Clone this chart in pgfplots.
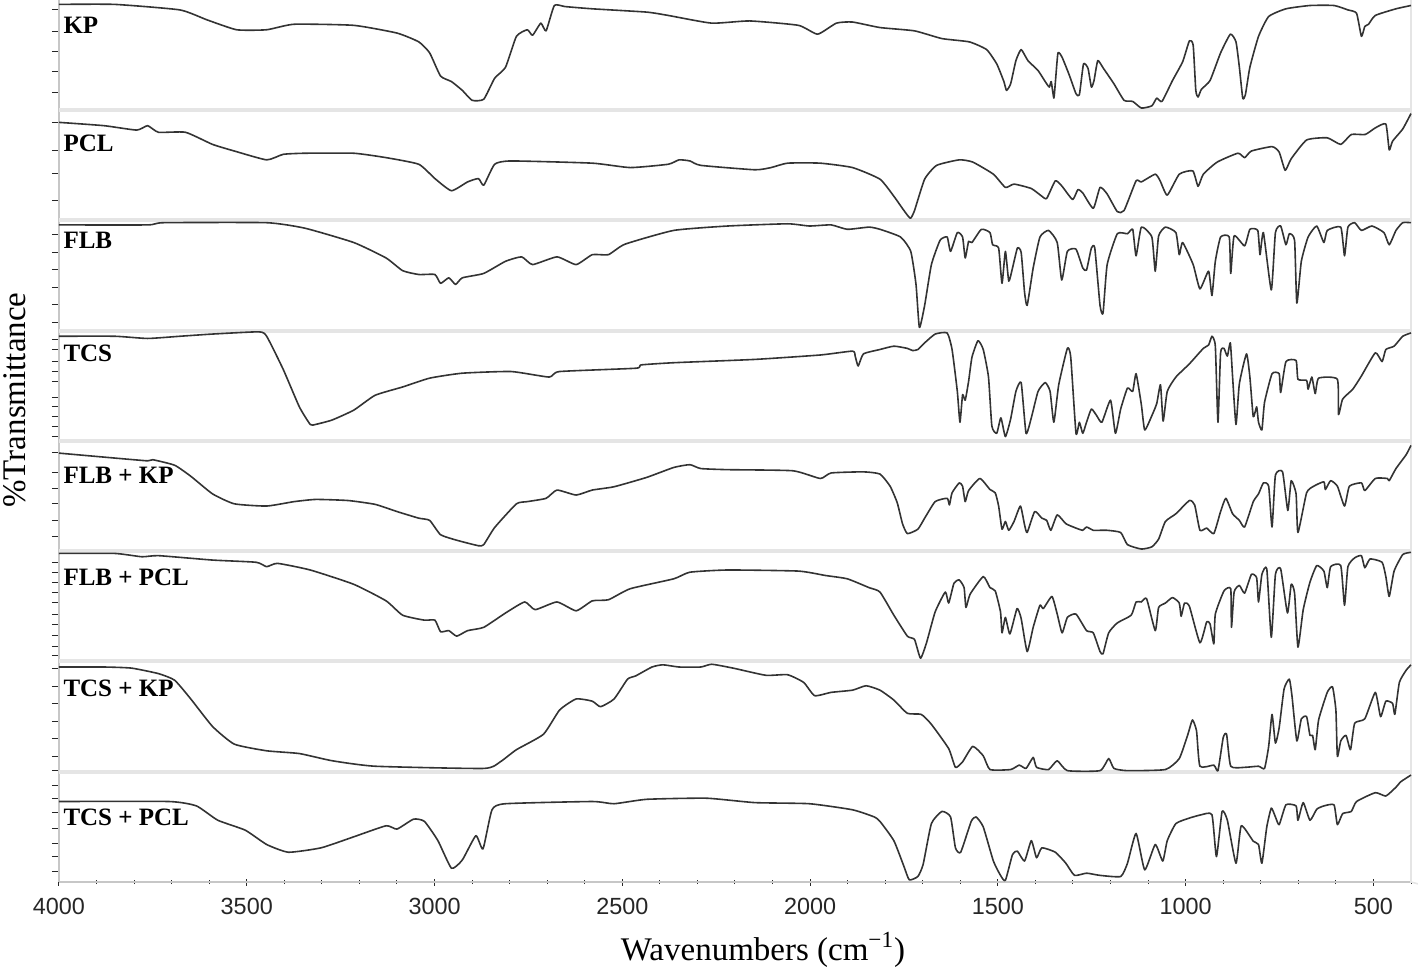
\documentclass[border=0pt]{standalone}
\usepackage{fontspec}
\setmainfont{Liberation Serif}
\newfontfamily\ticksans{Liberation Sans}
\usepackage{pgfplots}
\usepackage{pgfplotstable}
\pgfplotsset{compat=1.18}

\pgfplotstableread{
4000 0.96
3851 0.96
3678 0.91
3606 0.82
3527 0.73
3447 0.73
3374 0.78
3215 0.77
3100 0.70
3042 0.62
3013 0.52
2984 0.31
2955 0.26
2926 0.18
2900 0.09
2869 0.10
2840 0.29
2811 0.39
2782 0.67
2753 0.73
2739 0.68
2717 0.79
2703 0.72
2681 0.95
2652 0.94
2580 0.92
2435 0.89
2378 0.86
2262 0.79
2161 0.81
2031 0.77
1980 0.69
1930 0.79
1887 0.80
1814 0.75
1722 0.72
1649 0.65
1576 0.62
1530 0.55
1503 0.42
1484 0.26
1477 0.18
1466 0.24
1452 0.45
1438 0.55
1420 0.45
1393 0.36
1374 0.26
1363 0.21
1358 0.26
1351 0.11
1347 0.25
1340 0.52
1329 0.48
1310 0.32
1292 0.15
1283 0.14
1272 0.42
1260 0.38
1251 0.21
1244 0.27
1234 0.45
1219 0.38
1191 0.24
1164 0.09
1141 0.08
1118 0.02
1090 0.04
1077 0.11
1063 0.08
1035 0.27
1008 0.44
990 0.63
980 0.59
973 0.18
967 0.12
958 0.19
935 0.27
907 0.52
881 0.69
866 0.62
857 0.39
848 0.11
841 0.14
829 0.39
806 0.67
779 0.85
733 0.92
669 0.95
605 0.95
568 0.91
545 0.88
532 0.67
523 0.76
513 0.78
495 0.86
440 0.92
400 0.95
}\kp

\pgfplotstableread{
4000 0.89
3880 0.86
3793 0.82
3764 0.86
3735 0.80
3663 0.80
3591 0.69
3533 0.63
3447 0.55
3403 0.60
3345 0.61
3215 0.61
3129 0.57
3042 0.51
2999 0.38
2955 0.27
2912 0.35
2883 0.38
2869 0.32
2840 0.51
2796 0.54
2580 0.52
2479 0.48
2378 0.51
2349 0.55
2320 0.54
2291 0.50
2147 0.46
2104 0.48
2060 0.52
1973 0.52
1887 0.48
1814 0.375
1777 0.22
1750 0.09
1733 0.02
1722 0.09
1695 0.375
1663 0.50
1603 0.55
1567 0.53
1512 0.42
1480 0.30
1457 0.33
1411 0.29
1383 0.22
1370 0.20
1347 0.36
1329 0.31
1301 0.19
1287 0.28
1274 0.25
1246 0.11
1228 0.30
1209 0.24
1182 0.08
1164 0.09
1132 0.36
1118 0.35
1081 0.42
1068 0.36
1049 0.23
1017 0.42
981 0.45
967 0.31
953 0.42
916 0.53
861 0.61
843 0.57
825 0.63
770 0.67
751 0.62
735 0.455
719 0.56
678 0.73
623 0.75
587 0.69
559 0.78
522 0.78
495 0.84
467 0.875
458 0.64
449 0.72
422 0.83
400 0.97
}\pcl

\pgfplotstableread{
4000 0.96
3764 0.96
3721 0.98
3447 0.98
3345 0.93
3215 0.80
3129 0.66
3085 0.545
3042 0.51
2999 0.51
2984 0.43
2962 0.48
2944 0.42
2926 0.48
2869 0.52
2811 0.63
2768 0.67
2739 0.60
2674 0.67
2623 0.60
2580 0.69
2537 0.69
2493 0.785
2363 0.91
2219 0.95
2060 0.97
2002 0.95
1944 0.96
1901 0.92
1843 0.94
1814 0.92
1759 0.85
1732 0.72
1718 0.42
1709 0.03
1695 0.23
1677 0.60
1654 0.82
1635 0.85
1626 0.72
1608 0.89
1594 0.85
1587 0.66
1578 0.81
1569 0.80
1544 0.92
1521 0.89
1514 0.78
1498 0.75
1489 0.43
1480 0.72
1471 0.45
1461 0.57
1448 0.75
1438 0.71
1429 0.35
1422 0.23
1406 0.57
1388 0.85
1365 0.91
1342 0.80
1330 0.46
1315 0.72
1292 0.74
1274 0.57
1264 0.55
1251 0.75
1242 0.75
1228 0.23
1220 0.16
1209 0.60
1182 0.88
1155 0.88
1141 0.92
1132 0.68
1118 0.94
1090 0.85
1081 0.54
1072 0.86
1054 0.94
1026 0.89
1017 0.69
1008 0.80
980 0.60
962 0.38
939 0.54
930 0.32
921 0.63
907 0.85
884 0.85
880 0.52
871 0.86
843 0.77
829 0.92
808 0.91
802 0.69
793 0.89
772 0.37
761 0.89
747 0.95
733 0.78
724 0.88
710 0.82
704 0.25
692 0.63
674 0.85
651 0.95
632 0.80
623 0.91
587 0.94
577 0.68
568 0.94
550 0.98
532 0.91
504 0.95
472 0.89
458 0.78
440 0.91
422 0.98
400 0.98
}\flb

\pgfplotstableread{
4000 0.95
3851 0.95
3764 0.93
3678 0.95
3591 0.97
3468 0.99
3447 0.95
3403 0.65
3360 0.31
3331 0.15
3317 0.15
3273 0.19
3215 0.28
3158 0.415
3085 0.49
3013 0.57
2926 0.615
2796 0.63
2695 0.58
2667 0.63
2464 0.66
2450 0.69
2363 0.71
2147 0.74
1973 0.78
1887 0.815
1880 0.77
1872 0.68
1858 0.79
1814 0.83
1777 0.86
1741 0.84
1727 0.82
1713 0.83
1695 0.89
1667 0.97
1635 0.98
1622 0.83
1608 0.45
1601 0.17
1594 0.42
1587 0.37
1578 0.54
1569 0.76
1553 0.91
1539 0.83
1525 0.58
1516 0.135
1503 0.07
1492 0.21
1480 0.04
1466 0.20
1452 0.45
1438 0.53
1425 0.07
1411 0.21
1393 0.45
1374 0.53
1361 0.45
1351 0.17
1338 0.51
1315 0.84
1306 0.76
1292 0.07
1283 0.17
1274 0.07
1264 0.17
1251 0.29
1237 0.23
1223 0.17
1200 0.37
1187 0.07
1173 0.29
1155 0.48
1141 0.45
1132 0.61
1118 0.33
1109 0.10
1090 0.23
1077 0.34
1067 0.51
1060 0.18
1049 0.45
1026 0.58
990 0.70
953 0.84
939 0.87
930 0.95
921 0.86
914 0.17
907 0.80
898 0.84
889 0.77
881 0.89
875 0.58
866 0.15
857 0.52
838 0.79
829 0.58
820 0.22
811 0.31
806 0.17
797 0.10
790 0.35
770 0.61
751 0.61
747 0.44
733 0.72
706 0.73
701 0.56
678 0.55
674 0.47
664 0.58
655 0.43
646 0.57
596 0.56
593 0.24
582 0.38
555 0.47
532 0.59
495 0.80
477 0.72
467 0.83
445 0.86
422 0.95
400 0.98
}\tcs

\pgfplotstableread{
4000 0.89
3851 0.845
3764 0.82
3750 0.83
3692 0.78
3649 0.68
3591 0.52
3533 0.43
3447 0.41
3374 0.45
3316 0.47
3230 0.46
3158 0.425
3100 0.36
3042 0.30
3013 0.28
2984 0.15
2941 0.10
2883 0.05
2869 0.06
2840 0.215
2782 0.43
2753 0.45
2703 0.48
2674 0.555
2623 0.51
2580 0.555
2522 0.585
2435 0.67
2363 0.76
2320 0.785
2291 0.75
2219 0.74
2046 0.73
1973 0.66
1944 0.71
1858 0.72
1814 0.70
1787 0.59
1768 0.44
1754 0.25
1741 0.16
1713 0.20
1695 0.30
1667 0.45
1635 0.48
1629 0.42
1622 0.53
1603 0.62
1594 0.59
1587 0.45
1578 0.55
1548 0.66
1521 0.56
1507 0.53
1498 0.41
1489 0.20
1480 0.27
1471 0.19
1457 0.27
1440 0.41
1429 0.24
1422 0.17
1402 0.36
1383 0.30
1370 0.28
1359 0.19
1342 0.33
1319 0.25
1292 0.21
1274 0.19
1264 0.22
1246 0.19
1228 0.19
1209 0.19
1173 0.17
1155 0.06
1118 0.02
1090 0.04
1072 0.11
1054 0.27
1026 0.34
990 0.46
976 0.42
962 0.19
944 0.21
925 0.16
907 0.36
893 0.48
875 0.34
857 0.28
843 0.22
820 0.45
806 0.52
793 0.62
779 0.59
770 0.22
761 0.69
742 0.72
728 0.37
719 0.64
706 0.52
701 0.17
678 0.53
659 0.59
632 0.63
628 0.56
614 0.64
596 0.59
577 0.41
564 0.59
532 0.62
523 0.55
495 0.66
463 0.66
458 0.64
440 0.75
413 0.875
400 0.96
}\flbkp

\pgfplotstableread{
4000 0.98
3851 0.98
3779 0.95
3735 0.96
3591 0.92
3475 0.90
3447 0.86
3418 0.89
3331 0.83
3215 0.70
3129 0.55
3085 0.42
3027 0.375
2999 0.375
2984 0.27
2962 0.28
2941 0.23
2912 0.28
2869 0.31
2811 0.44
2760 0.54
2732 0.47
2674 0.54
2623 0.46
2580 0.55
2537 0.56
2479 0.66
2363 0.75
2320 0.81
2219 0.83
2031 0.82
1959 0.78
1901 0.75
1843 0.67
1814 0.63
1777 0.42
1741 0.23
1722 0.20
1706 0.03
1690 0.17
1667 0.45
1640 0.63
1631 0.53
1617 0.71
1603 0.74
1590 0.67
1585 0.49
1574 0.61
1539 0.77
1521 0.67
1507 0.64
1493 0.45
1489 0.26
1480 0.40
1468 0.25
1449 0.48
1438 0.39
1422 0.09
1406 0.31
1388 0.51
1379 0.48
1356 0.59
1342 0.43
1329 0.26
1315 0.40
1292 0.43
1264 0.28
1246 0.26
1228 0.09
1220 0.07
1205 0.26
1182 0.35
1145 0.42
1132 0.54
1118 0.54
1104 0.57
1081 0.28
1072 0.49
1054 0.53
1035 0.58
1017 0.53
1012 0.41
1003 0.53
990 0.50
962 0.17
944 0.36
935 0.34
925 0.16
921 0.43
898 0.64
880 0.66
878 0.31
871 0.63
857 0.69
843 0.62
825 0.79
811 0.76
806 0.54
797 0.79
784 0.84
772 0.22
761 0.79
747 0.84
729 0.44
719 0.70
710 0.62
701 0.13
687 0.47
669 0.72
651 0.87
632 0.82
623 0.67
614 0.86
587 0.87
577 0.51
568 0.86
550 0.94
532 0.96
523 0.85
509 0.93
477 0.90
467 0.77
458 0.59
445 0.82
422 0.97
400 0.99
}\flbpcl

\pgfplotstableread{
4000 0.95
3880 0.95
3807 0.94
3735 0.89
3692 0.83
3649 0.66
3591 0.41
3533 0.25
3447 0.19
3360 0.165
3273 0.10
3158 0.05
2869 0.03
2825 0.09
2782 0.20
2710 0.34
2667 0.56
2623 0.66
2580 0.64
2558 0.59
2522 0.66
2486 0.84
2464 0.87
2421 0.95
2392 0.97
2349 0.95
2291 0.95
2262 0.975
2205 0.94
2118 0.875
2060 0.88
2017 0.81
1988 0.69
1944 0.72
1887 0.74
1851 0.78
1814 0.74
1777 0.65
1741 0.53
1704 0.52
1677 0.43
1631 0.21
1613 0.04
1594 0.09
1567 0.23
1539 0.145
1521 0.02
1466 0.02
1443 0.06
1425 0.03
1406 0.13
1397 0.04
1365 0.02
1342 0.10
1315 0.01
1228 0.01
1205 0.12
1191 0.03
1155 0.01
1054 0.02
1017 0.12
994 0.34
982 0.47
971 0.37
962 0.05
925 0.06
914 0.01
900 0.31
891 0.34
880 0.05
843 0.04
806 0.05
790 0.03
779 0.23
770 0.52
761 0.26
751 0.40
738 0.75
724 0.84
717 0.69
704 0.28
692 0.48
678 0.50
669 0.33
662 0.33
655 0.20
646 0.47
623 0.72
609 0.77
600 0.56
596 0.14
587 0.28
573 0.33
561 0.20
550 0.44
523 0.48
495 0.72
481 0.50
467 0.64
449 0.62
443 0.52
431 0.81
413 0.92
400 0.97
}\tcskp

\pgfplotstableread{
4000 0.73
3707 0.73
3634 0.69
3577 0.56
3504 0.47
3447 0.34
3389 0.27
3302 0.31
3215 0.41
3129 0.51
3100 0.48
3056 0.57
3027 0.55
2991 0.375
2955 0.125
2926 0.20
2890 0.42
2871 0.30
2847 0.655
2811 0.71
2580 0.73
2522 0.71
2435 0.75
2276 0.76
2147 0.72
2002 0.71
1887 0.655
1829 0.59
1814 0.55
1777 0.375
1750 0.14
1736 0.02
1713 0.05
1699 0.16
1677 0.53
1649 0.64
1626 0.59
1613 0.31
1599 0.27
1571 0.55
1558 0.59
1539 0.50
1512 0.19
1493 0.06
1480 0.015
1461 0.25
1448 0.28
1429 0.19
1411 0.375
1397 0.22
1383 0.31
1347 0.27
1319 0.17
1296 0.06
1264 0.08
1228 0.06
1173 0.05
1155 0.17
1132 0.44
1109 0.11
1081 0.34
1061 0.19
1049 0.375
1026 0.53
990 0.58
958 0.61
930 0.61
918 0.23
903 0.64
889 0.56
866 0.17
852 0.51
820 0.37
806 0.34
797 0.17
784 0.50
772 0.67
761 0.59
751 0.52
733 0.70
706 0.69
701 0.56
687 0.72
669 0.56
651 0.66
632 0.69
605 0.70
596 0.52
582 0.62
559 0.64
545 0.73
495 0.81
467 0.78
440 0.86
427 0.91
400 0.97
}\tcspcl

\begin{document}
\begin{tikzpicture}
\useasboundingbox (-29.5pt,-46pt) rectangle (679.5pt,441pt);
\begin{axis}[
  scale only axis, width=676pt, height=441pt,
  at={(0,0)}, anchor=south west,
  xmin=400, xmax=4000, x dir=reverse,
  ymin=0, ymax=882,
  axis x line*=bottom, axis y line*=left,
  axis line style={-, black!22, line width=1.4pt},
  xtick={500,1000,...,4000},
  minor xtick={400,500,...,4000},
  xtick align=center,
  ytick={872,850,830,810,789,759,731,708,681,647,629,612,594,577,559,542,532,520,510,500,484,475,465,455,445,429,409,393,378,361,345,319,309,299,289,279,267,257,246,235,226,213,195,178,160,143,125,111,96,83,69,53,39,26,11},
  yticklabels={},
  ytick align=outside,
  major tick length=3.5pt, minor tick length=2pt,
  every tick/.style={black!85, line width=0.5pt},
  /pgf/number format/assume math mode=true,
  /pgf/number format/1000 sep={},
  xticklabel style={font=\ticksans\fontsize{11.7}{13}\selectfont, text=black!85, yshift=-3pt},
  clip=false,
  spec/.style={black!80, solid, line width=0.8pt, line join=round, mark=none, smooth, tension=0.3},
]
\draw[black!10, line width=2pt] (rel axis cs:0,0.125) -- (rel axis cs:1,0.125);
\draw[black!10, line width=2pt] (rel axis cs:0,0.25) -- (rel axis cs:1,0.25);
\draw[black!10, line width=2pt] (rel axis cs:0,0.375) -- (rel axis cs:1,0.375);
\draw[black!10, line width=2pt] (rel axis cs:0,0.5) -- (rel axis cs:1,0.5);
\draw[black!10, line width=2pt] (rel axis cs:0,0.625) -- (rel axis cs:1,0.625);
\draw[black!10, line width=2pt] (rel axis cs:0,0.75) -- (rel axis cs:1,0.75);
\draw[black!10, line width=2pt] (rel axis cs:0,0.875) -- (rel axis cs:1,0.875);
\draw[black!10, line width=0.8pt] (rel axis cs:1,1) -- (rel axis cs:1,0) -- ++(0,-20pt);

\addplot[spec] table[x index=0, y expr=\thisrowno{1}*110.25+771.75] {\kp};
\addplot[spec] table[x index=0, y expr=\thisrowno{1}*110.25+661.5] {\pcl};
\addplot[spec] table[x index=0, y expr=\thisrowno{1}*110.25+551.25] {\flb};
\addplot[spec] table[x index=0, y expr=\thisrowno{1}*110.25+441] {\tcs};
\addplot[spec] table[x index=0, y expr=\thisrowno{1}*110.25+330.75] {\flbkp};
\addplot[spec] table[x index=0, y expr=\thisrowno{1}*110.25+220.5] {\flbpcl};
\addplot[spec] table[x index=0, y expr=\thisrowno{1}*110.25+110.25] {\tcskp};
\addplot[spec] table[x index=0, y expr=\thisrowno{1}*110.25+0] {\tcspcl};

\begin{scope}[every node/.style={anchor=west, inner sep=0pt, font=\bfseries\fontsize{12.5}{14}\selectfont}]
\node at (axis cs:3989,857) {KP};
\node at (axis cs:3989,739) {PCL};
\node at (axis cs:3989,642) {FLB};
\node at (axis cs:3989,529) {TCS};
\node at (axis cs:3989,407) {FLB + KP};
\node at (axis cs:3989,305) {FLB + PCL};
\node at (axis cs:3989,194) {TCS + KP};
\node at (axis cs:3989,65) {TCS + PCL};
\end{scope}
\end{axis}
\node[rotate=90, font=\fontsize{16.5}{18}\selectfont] at (-22pt,241pt) {\%Transmittance};
\node[font=\fontsize{16.5}{18}\selectfont] at (352pt,-34pt) {Wavenumbers (cm\textsuperscript{−1})};
\end{tikzpicture}
\end{document}
